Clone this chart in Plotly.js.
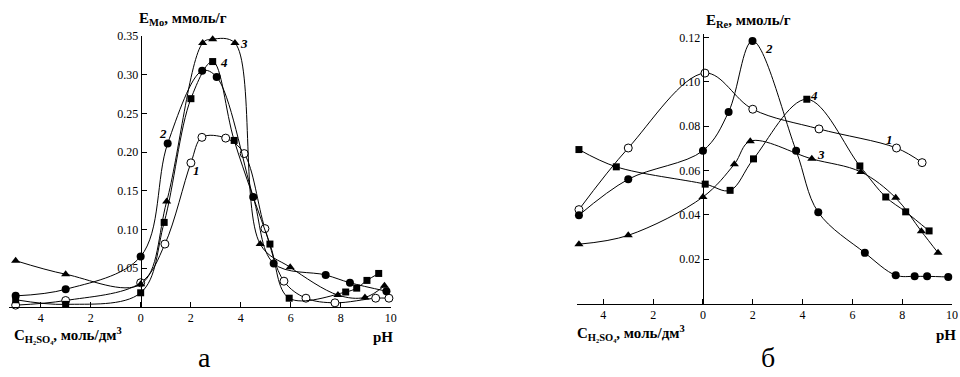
<!DOCTYPE html>
<html>
<head>
<meta charset="utf-8">
<script src="https://cdn.plot.ly/plotly-3.0.1.min.js"></script>
<style>html,body{margin:0;padding:0;background:#fff}#chart{width:960px;height:377px}</style>
</head>
<body>
<div id="chart"></div>
<script>
// ---- Panel a: E_Mo ----
const moX1 = [-5, -3, 0, 0.97, 2.01, 2.45, 3.4, 4.14, 4.97, 5.73, 6.61, 7.77, 9.4, 9.93];
const moY1 = [0.002, 0.008, 0.031, 0.081, 0.186, 0.219, 0.218, 0.198, 0.101, 0.033, 0.011, 0.005, 0.011, 0.011];
const moX2 = [-5, -3, 0, 1.08, 2.46, 3.04, 4.5, 5.32, 7.4, 8.37, 9.83];
const moY2 = [0.014, 0.0225, 0.065, 0.211, 0.305, 0.297, 0.142, 0.056, 0.041, 0.031, 0.020];
const moX3 = [-5, -3, 0, 1.04, 2.48, 2.88, 3.77, 4.78, 5.98, 7.89, 8.97, 9.75];
const moY3 = [0.0595, 0.042, 0.029, 0.136, 0.341, 0.346, 0.341, 0.081, 0.051, 0.015, 0.012, 0.027];
const moX4 = [-5, -3, 0, 0.94, 2.01, 2.88, 3.74, 5.17, 5.94, 8.2, 8.64, 9.05, 9.52];
const moY4 = [0.009, 0.003, 0.018, 0.109, 0.269, 0.317, 0.215, 0.081, 0.011, 0.019, 0.024, 0.034, 0.043];

// ---- Panel б: E_Re ----
const reX1 = [-4.98, -3.0, 0.08, 2.0, 4.66, 7.77, 8.8];
const reY1 = [0.0424, 0.0702, 0.104, 0.0877, 0.0788, 0.0702, 0.0636];
const reX2 = [-4.98, -3.0, 0, 1.03, 1.99, 3.74, 4.63, 6.5, 7.74, 8.5, 9.0, 9.85];
const reY2 = [0.0399, 0.0561, 0.069, 0.0865, 0.1185, 0.069, 0.0412, 0.0229, 0.0128, 0.0123, 0.0123, 0.012];
const reX3 = [-4.98, -3.0, 0, 1.26, 1.9, 4.37, 6.34, 7.74, 8.77, 9.44];
const reY3 = [0.0268, 0.0308, 0.0481, 0.0629, 0.0733, 0.0653, 0.0594, 0.0477, 0.0326, 0.0229];
const reX4 = [-4.98, -3.48, 0.09, 1.09, 2.03, 4.17, 6.3, 7.34, 8.14, 9.08];
const reY4 = [0.0695, 0.0617, 0.0539, 0.0511, 0.0653, 0.0922, 0.0621, 0.0481, 0.0414, 0.0328];

// tick values and labels
const xTickVals = [-4, -2, 0, 2, 4, 6, 8, 10];
const xTickText = ['4', '2', '0', '2', '4', '6', '8', '10'];
const moYTicks = [0.05, 0.10, 0.15, 0.20, 0.25, 0.30, 0.35];
const reYTicks = [0.02, 0.04, 0.06, 0.08, 0.10, 0.12];

// curve number labels
const curveNames = ['1', '2', '3', '4'];
const moLabelX = [2.24, 0.88, 4.14, 3.35];
const moLabelY = [0.176, 0.224, 0.340, 0.316];
const reLabelX = [7.5, 2.67, 4.74, 4.46];
const reLabelY = [0.074, 0.115, 0.0674, 0.094];

const W = 960, H = 377;
const serif = 'Liberation Serif, Times New Roman, serif';

const markerStyles = [
  {symbol: 'circle', size: 8, color: '#fff', line: {color: '#000', width: 1}},
  {symbol: 'circle', size: 8, color: '#000', line: {color: '#000', width: 0}},
  {symbol: 'triangle-up', size: 8, color: '#000', line: {color: '#000', width: 0}},
  {symbol: 'square', size: 7, color: '#000', line: {color: '#000', width: 0}}
];

function tr(x, y, i, xa, ya) {
  return {
    x: x, y: y, xaxis: xa, yaxis: ya, type: 'scatter', mode: 'lines+markers',
    line: {color: '#000', width: 1, shape: 'spline', smoothing: 1},
    marker: markerStyles[i], cliponaxis: false, showlegend: false, hoverinfo: 'skip'
  };
}

const data = [
  tr(moX1, moY1, 0, 'x', 'y'), tr(moX2, moY2, 1, 'x', 'y'),
  tr(moX3, moY3, 2, 'x', 'y'), tr(moX4, moY4, 3, 'x', 'y'),
  tr(reX1, reY1, 0, 'x2', 'y2'), tr(reX2, reY2, 1, 'x2', 'y2'),
  tr(reX3, reY3, 2, 'x2', 'y2'), tr(reX4, reY4, 3, 'x2', 'y2')
];

function xAx(domain, range) {
  return {
    domain: domain, range: range, showgrid: false, zeroline: false,
    showline: true, linecolor: '#000', linewidth: 1,
    ticks: 'inside', ticklen: 5, tickcolor: '#000', tickwidth: 1,
    tickvals: xTickVals, ticktext: xTickText,
    tickfont: {family: serif, size: 12, color: '#000'}
  };
}
function yAx(domain, range, pos, ticks) {
  return {
    domain: domain, range: range, anchor: 'free', position: pos,
    showgrid: false, zeroline: false,
    showline: true, linecolor: '#000', linewidth: 1,
    ticks: 'inside', ticklen: 5, tickcolor: '#000', tickwidth: 1,
    tickvals: ticks, tickformat: '.2f',
    tickfont: {family: serif, size: 12, color: '#000'}
  };
}

const titleFont = {family: serif, size: 15, color: '#000', weight: 'bold'};
const annotations = [];
function paperText(text, px, py, xanchor, font) {
  annotations.push({
    xref: 'paper', yref: 'paper', x: px / W, y: 1 - py / H,
    xanchor: xanchor, yanchor: 'middle', text: text, showarrow: false, font: font
  });
}
paperText('<b>E<sub>Mo</sub>, ммоль/г</b>', 137, 19, 'left', titleFont);
paperText('<b>E<sub>Re</sub>, ммоль/г</b>', 704, 21, 'left', titleFont);
paperText('<b>C<sub>H₂SO₄</sub>, моль/дм<sup>3</sup></b>', 12, 335, 'left', titleFont);
paperText('<b>C<sub>H₂SO₄</sub>, моль/дм<sup>3</sup></b>', 575, 333, 'left', titleFont);
paperText('<b>pH</b>', 395, 337, 'right', titleFont);
paperText('<b>pH</b>', 958, 335, 'right', titleFont);
paperText('а', 204, 357, 'center', {family: serif, size: 28, color: '#000'});
paperText('б', 768, 357, 'center', {family: serif, size: 28, color: '#000'});

const labFont = {family: serif, size: 13, color: '#000', weight: 'bold', style: 'italic'};
for (let i = 0; i < 4; i++) {
  annotations.push({xref: 'x', yref: 'y', x: moLabelX[i], y: moLabelY[i], text: '<b><i>' + curveNames[i] + '</i></b>', showarrow: false, font: labFont});
  annotations.push({xref: 'x2', yref: 'y2', x: reLabelX[i], y: reLabelY[i], text: '<b><i>' + curveNames[i] + '</i></b>', showarrow: false, font: labFont});
}

const layout = {
  width: W, height: H,
  margin: {l: 0, r: 0, t: 0, b: 0},
  paper_bgcolor: '#fff', plot_bgcolor: '#fff',
  showlegend: false,
  xaxis: xAx([9.4 / W, 390.7 / W], [-5.25, 10]),
  yaxis: yAx([1 - 306.7 / H, 1 - 35.5 / H], [0, 0.3507], 140.7 / W, moYTicks),
  xaxis2: xAx([576.7 / W, 952 / W], [-5.07, 10]),
  yaxis2: yAx([1 - 303.6 / H, 1 - 34.3 / H], [0, 0.1215], 702.7 / W, reYTicks),
  annotations: annotations
};
layout.xaxis.anchor = 'y';
layout.xaxis2.anchor = 'y2';

Plotly.newPlot('chart', data, layout, {staticPlot: true, displayModeBar: false});
</script>
</body>
</html>
